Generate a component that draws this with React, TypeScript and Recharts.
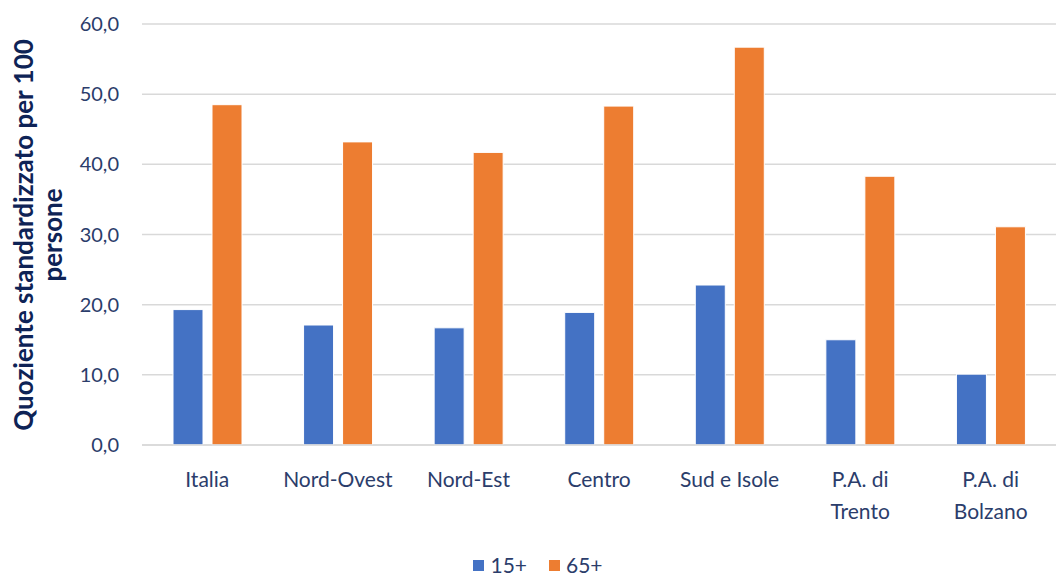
import { Bar, BarChart, CartesianGrid, XAxis, YAxis } from 'recharts';

const categories = ['Italia', 'Nord-Ovest', 'Nord-Est', 'Centro', 'Sud e Isole', 'P.A. di Trento', 'P.A. di Bolzano'];
const over15 = [19.3, 17.1, 16.7, 18.9, 22.8, 15.0, 10.1];
const over65 = [48.5, 43.2, 41.7, 48.3, 56.7, 38.3, 31.1];
const yTicks = [0, 10, 20, 30, 40, 50, 60];

const data = categories.map((name, i) => ({ name, a: over15[i], b: over65[i] }));

const FONT = 'Lato, "Noto Sans", sans-serif';
const TEXT = '#2B3D6B';
const NAVY = '#0E2356';

function CategoryTick(props: any) {
  const { x, y, payload } = props;
  const label: string = payload.value;
  const lines = label.startsWith('P.A. di ') ? ['P.A. di', label.slice(8)] : [label];
  return (
    <text x={x} y={y} textAnchor="middle" fill={TEXT} fontSize={21} fontFamily={FONT}>
      {lines.map((l, i) => (
        <tspan key={i} x={x} dy={i === 0 ? 34 : 32}>{l}</tspan>
      ))}
    </text>
  );
}

function YTitle() {
  return (
    <g fontFamily={FONT} fontWeight={700} fontSize={26} fill={NAVY} textAnchor="middle">
      <text transform="translate(33,235) rotate(-90)">Quoziente standardizzato per 100</text>
      <text transform="translate(62,235) rotate(-90)">persone</text>
    </g>
  );
}

export default function App() {
  return (
    <div style={{ position: 'absolute', left: 0, top: 0, width: 1056, height: 577, background: '#fff' }}>
      <BarChart
        width={1056}
        height={577}
        data={data}
        margin={{ top: 24, right: 0, bottom: 42, left: 0 }}
        barSize={30}
        barGap={9}
      >
        <CartesianGrid vertical={false} stroke="#D9D9D9" strokeWidth={1.5} />
        <XAxis
          dataKey="name"
          height={90}
          interval={0}
          tickLine={false}
          axisLine={{ stroke: '#D9D9D9', strokeWidth: 1.5 }}
          tick={<CategoryTick />}
        />
        <YAxis
          width={142}
          domain={[0, 60]}
          ticks={yTicks}
          tickLine={false}
          axisLine={false}
          tickMargin={17}
          tickFormatter={(v: number) => v.toFixed(1).replace('.', ',')}
          tick={{ fill: TEXT, fontSize: 20, fontFamily: FONT }}
          label={{ content: () => <YTitle /> }}
        />
        <Bar dataKey="a" name="15+" fill="#4472C4" stroke="#fff" strokeWidth={1} isAnimationActive={false} />
        <Bar dataKey="b" name="65+" fill="#ED7D31" stroke="#fff" strokeWidth={1} isAnimationActive={false} />
      </BarChart>
      <div
        style={{
          position: 'absolute',
          top: 552,
          left: 0,
          width: 1056,
          display: 'flex',
          justifyContent: 'center',
          paddingLeft: 20,
          boxSizing: 'border-box',
          fontFamily: FONT,
          fontSize: 21,
          color: TEXT,
          lineHeight: '26px',
        }}
      >
        <span style={{ display: 'flex', alignItems: 'center', marginRight: 22 }}>
          <span style={{ width: 11, height: 11, background: '#4472C4', marginRight: 6 }} />
          15+
        </span>
        <span style={{ display: 'flex', alignItems: 'center' }}>
          <span style={{ width: 11, height: 11, background: '#ED7D31', marginRight: 6 }} />
          65+
        </span>
      </div>
    </div>
  );
}
